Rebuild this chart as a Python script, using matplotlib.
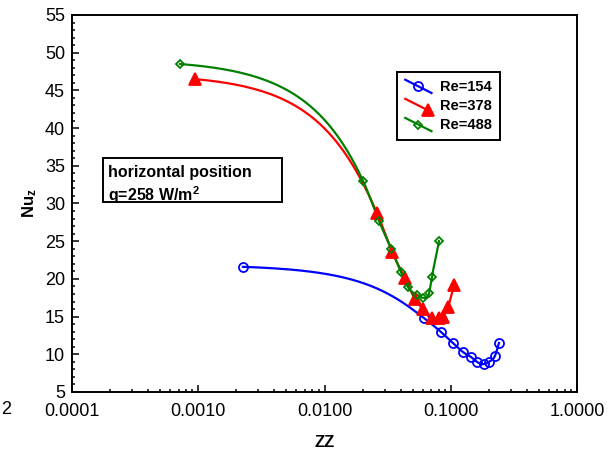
import numpy as np
import matplotlib
matplotlib.use("Agg")
import matplotlib.pyplot as plt
from matplotlib.lines import Line2D
from matplotlib.patches import Rectangle
from matplotlib.legend_handler import HandlerLine2D
from matplotlib.ticker import FixedLocator, MultipleLocator, FuncFormatter

plt.rcParams["font.family"] = ["Liberation Sans", "DejaVu Sans"]
plt.rcParams["mathtext.fontset"] = "custom"
plt.rcParams["mathtext.rm"] = "Liberation Sans:bold"
plt.rcParams["mathtext.bf"] = "Liberation Sans:bold"
plt.rcParams["mathtext.it"] = "Liberation Sans:bold"

# measured local Nusselt number along the tube
zz_154 = [0.00226, 0.0614, 0.0837, 0.104, 0.125, 0.145, 0.161, 0.183, 0.201, 0.224, 0.241]
nu_154 = [21.6, 14.8, 12.96, 11.5, 10.3, 9.64, 9.0, 8.7, 9.0, 9.8, 11.5]

zz_378 = [0.000942, 0.0261, 0.0343, 0.0434, 0.0521, 0.0603, 0.0710, 0.0807, 0.0868, 0.0951, 0.106]
nu_378 = [46.5, 28.7, 23.6, 20.1, 17.3, 16.0, 14.8, 14.8, 15.0, 16.3, 19.2]

zz_488 = [0.000716, 0.0202, 0.0270, 0.0337, 0.0403, 0.0459, 0.0540, 0.0603, 0.0673, 0.0710, 0.0807]
nu_488 = [48.5, 33.0, 27.7, 24.0, 20.9, 18.9, 17.9, 17.5, 18.1, 20.3, 25.0]

labels = ["Re=154", "Re=378", "Re=488"]
x_ticks = [0.0001, 0.001, 0.01, 0.1, 1.0]


def smooth_curve(x, y, n=300):
    # cubic Hermite through the points (linear x), three-point slopes inside,
    # secant slopes at both ends
    x = np.asarray(x, float)
    y = np.asarray(y, float)
    h = np.diff(x)
    d = np.diff(y) / h
    m = np.zeros(len(x))
    m[0] = d[0]
    m[1:-1] = (h[1:] * d[:-1] + h[:-1] * d[1:]) / (h[:-1] + h[1:])
    m[-1] = d[-1]
    xs, ys = [], []
    for i in range(len(h)):
        s = np.linspace(0, 1, n)
        h00 = 2 * s ** 3 - 3 * s ** 2 + 1
        h10 = s ** 3 - 2 * s ** 2 + s
        h01 = -2 * s ** 3 + 3 * s ** 2
        h11 = s ** 3 - s ** 2
        xs.append(x[i] + s * h[i])
        ys.append(h00 * y[i] + h10 * h[i] * m[i] + h01 * y[i + 1] + h11 * h[i] * m[i + 1])
    return np.concatenate(xs), np.concatenate(ys)


class DiagonalHandler(HandlerLine2D):
    # legend key drawn as a short slanted line with the marker on it
    def __init__(self, frac=0.5, **kw):
        super().__init__(**kw)
        self.frac = frac

    def create_artists(self, legend, orig_handle, xdescent, ydescent,
                       width, height, fontsize, trans):
        x0, x1 = -xdescent, -xdescent + width
        y0, y1 = -ydescent + height * 1.1, -ydescent - height * 0.2
        line = Line2D([x0, x1], [y0, y1])
        self.update_prop(line, orig_handle, legend)
        line.set_marker("")
        mx = x0 + (x1 - x0) * self.frac
        my = y0 + (y1 - y0) * self.frac
        mark = Line2D([mx], [my])
        self.update_prop(mark, orig_handle, legend)
        mark.set_linestyle("")
        line.set_transform(trans)
        mark.set_transform(trans)
        return [line, mark]


fig = plt.figure(figsize=(6.16, 4.54), dpi=100)
ax = fig.add_axes([72 / 616, 62 / 454, 505 / 616, 377 / 454])

series = [
    (zz_154, nu_154, "#0000ff", dict(marker="o", markersize=6.5, markerfacecolor="none")),
    (zz_378, nu_378, "#ff0000", dict(marker="^", markersize=8, markerfacecolor="#ff0000")),
    (zz_488, nu_488, "#008000", dict(marker="D", markersize=4.5, markerfacecolor="none")),
]
handles = []
for (zx, nu, col, mk), lab in zip(series, labels):
    sx, sy = smooth_curve(zx, nu)
    ax.plot(sx, sy, color=col, lw=1.6, zorder=2)
    ax.plot(zx, nu, ls="none", color=col, markeredgecolor=col,
            markeredgewidth=1.3, zorder=3, **mk)
    handles.append(Line2D([], [], color=col, lw=1.6, markeredgecolor=col,
                          markeredgewidth=1.3, **mk))

ax.set_xscale("log")
ax.set_xlim(0.0001, 1.0)
ax.set_ylim(5, 55)
ax.xaxis.set_major_locator(FixedLocator(x_ticks))
ax.xaxis.set_major_formatter(FuncFormatter(lambda v, p: f"{v:.4f}"))
ax.yaxis.set_major_locator(MultipleLocator(5))
ax.yaxis.set_minor_locator(MultipleLocator(1))
ax.tick_params(which="both", direction="in", top=False, right=False, width=1.1)
ax.tick_params(which="major", length=5, labelsize=13)
ax.tick_params(axis="x", which="major", pad=8)
ax.tick_params(axis="y", which="major", pad=5)
ax.tick_params(which="minor", length=2.5)
for s in ax.spines.values():
    s.set_linewidth(1.4)

ax.set_xlabel("ZZ", fontsize=12, fontweight="bold", labelpad=11)
ax.set_ylabel(r"Nu$_\mathbf{z}$", fontsize=12, fontweight="bold", labelpad=4)

# note box with fixed frame
ax.add_patch(Rectangle((0.0614, 0.504), 0.3544, 0.1167, transform=ax.transAxes,
                       facecolor="white", edgecolor="black", lw=1.4, zorder=4))
ax.text(0.0713, 0.603, "horizontal position\nq=258 W/m$^2$", transform=ax.transAxes,
        fontsize=11.5, fontweight="bold", va="top", ha="left", linespacing=1.25, zorder=5)

leg = ax.legend(handles, labels, loc="upper left", bbox_to_anchor=(0.644, 0.849),
                prop={"weight": "bold", "size": 10.5}, borderaxespad=0,
                fancybox=False, frameon=True, edgecolor="black", framealpha=1,
                handlelength=1.8, handletextpad=0.6, borderpad=0.55, labelspacing=0.35,
                handler_map={handles[0]: DiagonalHandler(0.5),
                             handles[1]: DiagonalHandler(0.85),
                             handles[2]: DiagonalHandler(0.5)})
leg.get_frame().set_linewidth(1.4)

fig.text(1 / 616, 1 - 410 / 454, "2", fontsize=13, ha="left", va="center")

fig.savefig("out.png", dpi=100)
